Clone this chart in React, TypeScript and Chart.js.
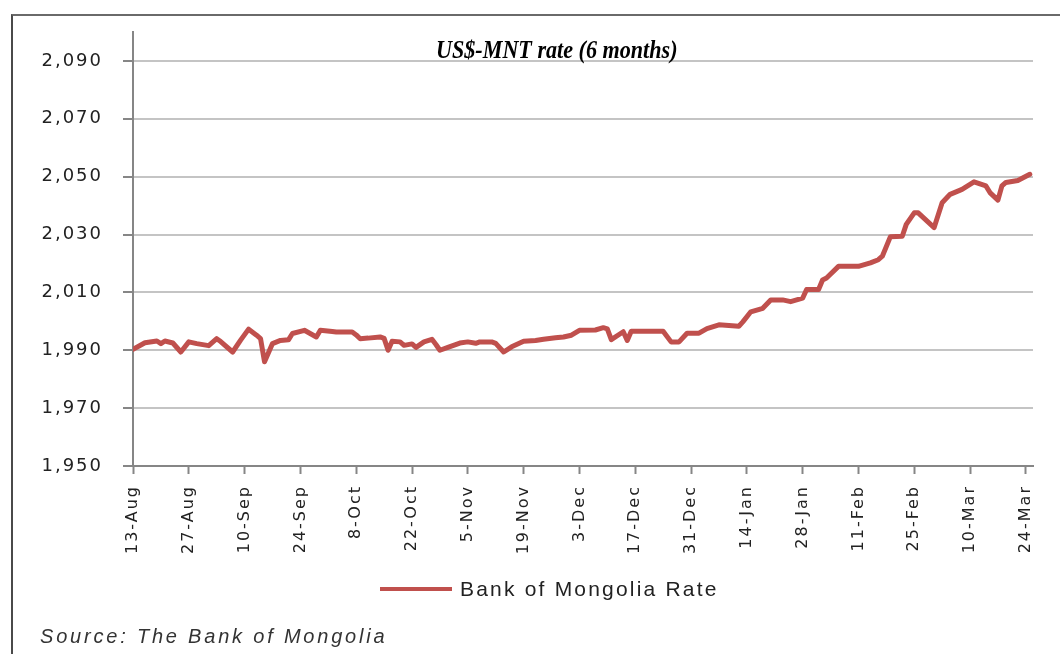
import React, { useEffect, useRef } from "react";
import { Chart, registerables } from "chart.js";

Chart.register(...registerables);

// Day offsets from 13-Aug
const dayOffsets = [0, 3, 6, 7, 8, 10, 12, 14, 16, 19, 21, 22, 25, 27, 29, 31, 32, 33, 35, 37, 39, 40, 43, 46, 47, 50, 51, 55, 56, 57, 59, 62, 63, 64, 65, 67, 68, 70, 71, 73, 75, 76, 77, 79, 82, 84, 86, 87, 90, 91, 93, 95, 98, 101, 103, 106, 108, 110, 112, 116, 118, 119, 120, 123, 124, 125, 128, 133, 135, 137, 139, 142, 144, 147, 152, 153, 155, 158, 160, 163, 165, 168, 169, 172, 173, 174, 177, 182, 185, 187, 188, 190, 193, 194, 196, 197, 201, 203, 205, 208, 211, 214, 215, 217, 218, 219, 222, 225];
const rates = [1990.3, 1992.6, 1993.2, 1992.3, 1993.2, 1992.5, 1989.4, 1992.9, 1992.3, 1991.6, 1994.0, 1993.0, 1989.4, 1993.5, 1997.3, 1995.2, 1994.0, 1986.0, 1992.3, 1993.4, 1993.6, 1995.8, 1996.9, 1994.6, 1996.9, 1996.5, 1996.3, 1996.3, 1995.3, 1994.0, 1994.2, 1994.6, 1994.1, 1990.0, 1993.1, 1992.9, 1991.7, 1992.2, 1991.0, 1992.9, 1993.8, 1992.0, 1990.0, 1991.0, 1992.5, 1992.9, 1992.4, 1992.9, 1992.9, 1992.4, 1989.4, 1991.2, 1993.1, 1993.4, 1993.8, 1994.3, 1994.6, 1995.2, 1996.9, 1997.0, 1997.8, 1997.4, 1993.7, 1996.4, 1993.4, 1996.6, 1996.6, 1996.6, 1992.9, 1992.9, 1995.9, 1995.9, 1997.5, 1998.8, 1998.3, 1999.8, 2003.3, 2004.5, 2007.4, 2007.4, 2006.8, 2008.0, 2011.0, 2011.0, 2014.3, 2015.0, 2019.0, 2019.0, 2020.2, 2021.3, 2022.5, 2029.2, 2029.4, 2033.5, 2037.5, 2037.5, 2032.4, 2041.0, 2043.9, 2045.6, 2048.2, 2046.8, 2044.5, 2041.9, 2046.8, 2048.0, 2048.7, 2050.8];

const xTickDays = [0, 14, 28, 42, 56, 70, 84, 98, 112, 126, 140, 154, 168, 182, 196, 210, 224];
const xTickLabels = ["13-Aug", "27-Aug", "10-Sep", "24-Sep", "8-Oct", "22-Oct", "5-Nov", "19-Nov", "3-Dec", "17-Dec", "31-Dec", "14-Jan", "28-Jan", "11-Feb", "25-Feb", "10-Mar", "24-Mar"];
const yTickValues = [1950, 1970, 1990, 2010, 2030, 2050, 2070, 2090];

const seriesLabel = "Bank of Mongolia Rate";
const titleText = "US$-MNT rate (6 months)";
const sourceText = "Source: The Bank of Mongolia";
const lineColor = "#C0504D";

const spacingPlugin = {
  id: "spacing",
  beforeUpdate(chart: any) {
    chart.ctx.letterSpacing = "2px";
  },
  beforeDraw(chart: any) {
    chart.ctx.letterSpacing = "2px";
  },
};

export default function App() {
  const ref = useRef<HTMLCanvasElement>(null);

  useEffect(() => {
    if (!ref.current) return;
    const chart = new Chart(ref.current, {
      type: "line",
      data: {
        datasets: [
          {
            label: seriesLabel,
            data: dayOffsets.map((d, i) => ({ x: d, y: rates[i] })),
            borderColor: lineColor,
            backgroundColor: lineColor,
            borderWidth: 5,
            pointRadius: 0,
            tension: 0,
            borderJoinStyle: "round",
            borderCapStyle: "round",
          },
        ],
      },
      options: {
        animation: false,
        responsive: false,
        layout: { padding: { top: 32, right: 27, bottom: 0, left: 0 } },
        plugins: {
          legend: { display: false },
          title: { display: false },
          tooltip: { enabled: false },
        },
        scales: {
          x: {
            type: "linear",
            min: 0,
            max: 225.8,
            afterBuildTicks: (scale: any) => {
              scale.ticks = xTickDays.map((v) => ({ value: v }));
            },
            afterFit: (scale: any) => {
              scale.height = 188;
            },
            ticks: {
              autoSkip: false,
              maxRotation: 90,
              minRotation: 90,
              padding: 11,
              color: "#222222",
              font: { family: "DejaVu Sans", size: 16 },
              callback: (v: any) => {
                const i = xTickDays.indexOf(Number(v));
                return i >= 0 ? xTickLabels[i] : "";
              },
            },
            grid: {
              drawOnChartArea: false,
              drawTicks: true,
              tickLength: 8,
              tickColor: "#868686",
              tickWidth: 2,
            },
            border: { color: "#868686", width: 2 },
          },
          y: {
            type: "linear",
            min: 1950,
            max: 2100,
            afterBuildTicks: (scale: any) => {
              scale.ticks = yTickValues.map((v) => ({ value: v }));
            },
            afterFit: (scale: any) => {
              scale.width = 133;
            },
            ticks: {
              padding: 20,
              color: "#222222",
              font: { family: "DejaVu Sans", size: 18 },
              callback: (v: any) => Number(v).toLocaleString("en-US"),
            },
            grid: {
              color: "#C4C4C4",
              lineWidth: 2,
              drawTicks: true,
              tickLength: 10,
              tickColor: "#868686",
              tickWidth: 2,
            },
            border: { color: "#868686", width: 2 },
          },
        },
      },
      plugins: [spacingPlugin],
    });
    return () => chart.destroy();
  }, []);

  return (
    <div
      style={{
        position: "fixed",
        left: 0,
        top: 0,
        width: 1060,
        height: 654,
        overflow: "hidden",
        background: "#ffffff",
      }}
    >
      <div
        style={{
          position: "absolute",
          left: 11,
          top: 14,
          width: 1100,
          height: 700,
          borderTop: "2px solid #6a6a6a",
          borderLeft: "2px solid #4a4a4a",
        }}
      />
      <canvas
        ref={ref}
        width={1060}
        height={654}
        style={{ position: "absolute", left: 0, top: 0, width: 1060, height: 654 }}
      />
      <div
        style={{
          position: "absolute",
          left: 436,
          top: 37,
          fontFamily: "'Liberation Serif', serif",
          fontWeight: "bold",
          fontStyle: "italic",
          fontSize: 25,
          lineHeight: "25px",
          whiteSpace: "nowrap",
          transform: "scaleX(0.885)",
          transformOrigin: "left top",
          color: "#000000",
        }}
      >
        {titleText}
      </div>
      <div
        style={{
          position: "absolute",
          left: 380,
          top: 576,
          display: "flex",
          alignItems: "center",
          whiteSpace: "nowrap",
        }}
      >
        <span
          style={{
            display: "inline-block",
            width: 72,
            height: 4,
            background: lineColor,
            marginRight: 8,
          }}
        />
        <span
          style={{
            fontFamily: "'Liberation Sans', sans-serif",
            fontSize: 21,
            letterSpacing: "2.2px",
            color: "#222222",
            lineHeight: "26px",
          }}
        >
          {seriesLabel}
        </span>
      </div>
      <div
        style={{
          position: "absolute",
          left: 40,
          top: 624,
          fontFamily: "'Liberation Sans', sans-serif",
          fontStyle: "italic",
          fontSize: 20,
          letterSpacing: "2.8px",
          color: "#333333",
          whiteSpace: "nowrap",
          lineHeight: "24px",
        }}
      >
        {sourceText}
      </div>
    </div>
  );
}
